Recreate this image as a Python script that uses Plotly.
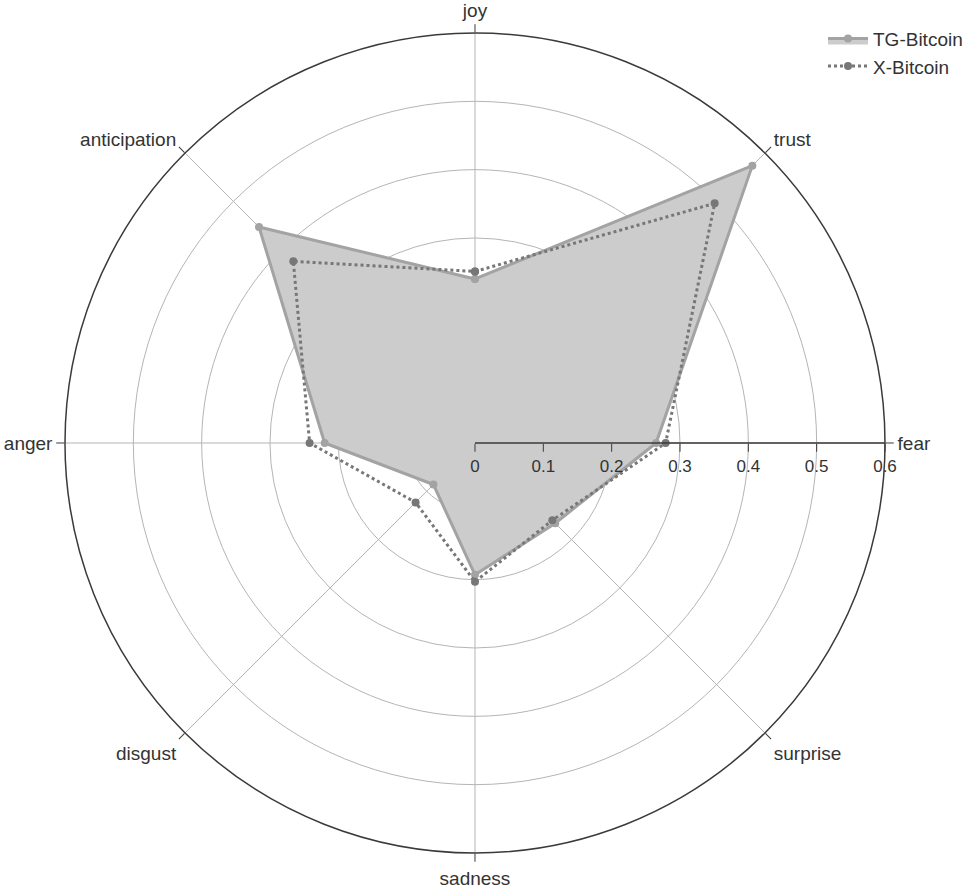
import plotly.graph_objects as go

emotions = ["joy", "trust", "fear", "surprise", "sadness", "disgust", "anger", "anticipation"]
tg_bitcoin = [0.24, 0.574, 0.265, 0.166, 0.193, 0.086, 0.22, 0.447]
x_bitcoin = [0.251, 0.496, 0.279, 0.16, 0.203, 0.123, 0.242, 0.376]
radial_ticks = [0, 0.1, 0.2, 0.3, 0.4, 0.5, 0.6]

fig = go.Figure()

# TG series: filled polygon
fig.add_trace(go.Scatterpolar(
    r=tg_bitcoin + tg_bitcoin[:1],
    theta=emotions + emotions[:1],
    name="TG-Bitcoin",
    mode="lines+markers",
    fill="toself",
    fillcolor="rgba(204,204,204,1)",
    line=dict(color="#a3a3a3", width=3),
    marker=dict(color="#a3a3a3", size=8),
))

# X series: dotted outline
fig.add_trace(go.Scatterpolar(
    r=x_bitcoin + x_bitcoin[:1],
    theta=emotions + emotions[:1],
    name="X-Bitcoin",
    mode="lines+markers",
    line=dict(color="#777777", width=3, dash="dot"),
    marker=dict(color="#777777", size=8),
))

fig.update_layout(
    width=968,
    height=889,
    margin=dict(l=0, r=0, t=0, b=0),
    paper_bgcolor="white",
    font=dict(family="Liberation Sans, Arial, sans-serif", size=16, color="#333333"),
    polar=dict(
        domain=dict(x=[0.0671, 0.9143], y=[0.0405, 0.9629]),
        bgcolor="white",
        angularaxis=dict(
            direction="clockwise",
            rotation=90,
            categoryorder="array",
            categoryarray=emotions,
            showline=True,
            linecolor="#3a3a3a",
            linewidth=1.5,
            gridcolor="#b5b5b5",
            gridwidth=1.2,
            ticks="outside",
            ticklen=8,
            tickcolor="#3a3a3a",
            tickfont=dict(size=19),
        ),
        radialaxis=dict(
            range=[0, 0.6],
            angle=0,
            tickangle=0,
            tickvals=radial_ticks,
            ticktext=[f"{v:g}" for v in radial_ticks],
            showline=True,
            linecolor="#3a3a3a",
            linewidth=1.5,
            gridcolor="#b5b5b5",
            gridwidth=1.2,
            ticks="outside",
            ticklen=8,
            tickcolor="#3a3a3a",
            tickfont=dict(size=17),
        ),
    ),
    legend=dict(
        x=1.0, y=0.978, xanchor="right", yanchor="top",
        bgcolor="rgba(255,255,255,0)",
        font=dict(size=19),
        itemwidth=40,
        tracegroupgap=0,
        indentation=-4,
    ),
)

# drop the default page margin so the chart fills the window edge to edge
fig.write_html(
    "out.html",
    config={"displayModeBar": False},
    post_script="document.body.style.margin = '0';",
)
